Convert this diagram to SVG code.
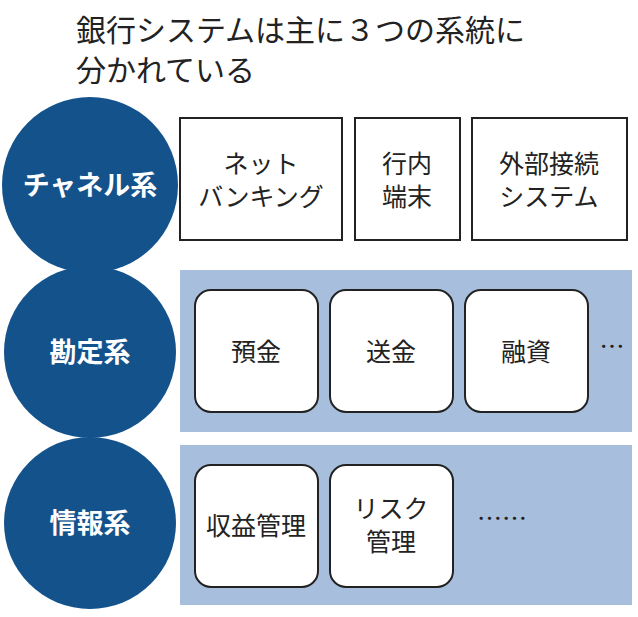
<svg xmlns="http://www.w3.org/2000/svg" width="638" height="617" viewBox="0 0 638 617">
<style>
text{font-family:"Noto Sans CJK JP","Noto Sans",sans-serif;fill:#222}
.t{font-size:30px}
.c{fill:#14528c}
.ct{fill:#fff;font-size:27px;font-weight:bold;text-anchor:middle}
.b{fill:#fff;stroke:#222;stroke-width:2}
.bt{font-size:25px;text-anchor:middle}
.band{fill:#a7bfdd}
</style>
<rect width="638" height="617" fill="#fff"/>
<g id="title"><text class="t" x="76" y="41">銀行システムは主に３つの系統に</text><text class="t" x="76" y="81">分かれている</text></g>
<rect class="band" x="180" y="270" width="452" height="162"/>
<rect class="band" x="180" y="445" width="452" height="160"/>
<g id="channel"><circle class="c" cx="90" cy="185" r="88"/><text class="ct" x="90" y="195">チャネル系</text></g>
<g id="kanjo"><circle class="c" cx="90" cy="352" r="86"/><text class="ct" x="90" y="362">勘定系</text></g>
<g id="joho"><circle class="c" cx="90" cy="523" r="86"/><text class="ct" x="90" y="533">情報系</text></g>
<g id="net"><rect class="b" x="180" y="118" width="162" height="122"/><text class="bt" x="261" y="173">ネット</text><text class="bt" x="261" y="206">バンキング</text></g>
<g id="konai"><rect class="b" x="355" y="118" width="105" height="122"/><text class="bt" x="407" y="173">行内</text><text class="bt" x="407" y="206">端末</text></g>
<g id="gaibu"><rect class="b" x="472" y="118" width="155" height="122"/><text class="bt" x="549" y="173">外部接続</text><text class="bt" x="549" y="206">システム</text></g>
<g id="yokin"><rect class="b" x="195" y="290" width="123" height="122" rx="16"/><text class="bt" x="256" y="361">預金</text></g>
<g id="sokin"><rect class="b" x="330" y="290" width="123" height="122" rx="16"/><text class="bt" x="391" y="361">送金</text></g>
<g id="yushi"><rect class="b" x="465" y="290" width="123" height="122" rx="16"/><text class="bt" x="526" y="361">融資</text></g>
<text class="bt" x="612" y="356">…</text>
<g id="shueki"><rect class="b" x="195" y="465" width="123" height="122" rx="16"/><text class="bt" x="256" y="535">収益管理</text></g>
<g id="risk"><rect class="b" x="330" y="465" width="123" height="122" rx="16"/><text class="bt" x="391" y="518">リスク</text><text class="bt" x="391" y="551">管理</text></g>
<text class="bt" x="502" y="528">……</text>
<g id="connectors"/>
</svg>
